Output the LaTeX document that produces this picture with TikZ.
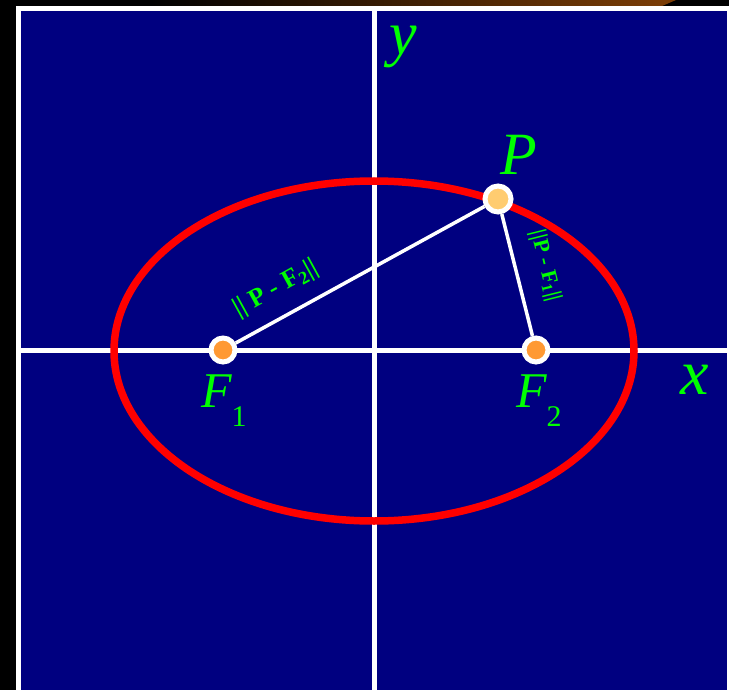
\documentclass[tikz,border=0pt]{standalone}
\usepackage{fontspec}
\setmainfont{Liberation Serif}
\usetikzlibrary{positioning}
\definecolor{navybg}{RGB}{0,0,128}
\definecolor{lgreen}{RGB}{0,255,0}
\definecolor{focusor}{RGB}{255,153,51}
\definecolor{pointor}{RGB}{255,204,112}
\definecolor{bandbrown}{RGB}{125,62,5}
\tikzset{
  focus/.style={circle,draw=white,line width=5pt,fill=focusor,minimum size=24pt,inner sep=0pt},
  ptdot/.style={circle,draw=white,line width=5pt,fill=pointor,minimum size=26pt,inner sep=0pt},
  lbl/.style={text=lgreen,inner sep=0pt},
}

\begin{document}
\begin{tikzpicture}[x=1pt,y=-1pt]
  \useasboundingbox (0,0) rectangle (729,690);
  \clip (0,0) rectangle (729,690);
  \fill[black] (0,0) rectangle (729,690);
  \shade[left color=black,right color=bandbrown] (150,0) -- (676,0) -- (662,6) -- (150,6) -- cycle;
  \fill[white] (16,6) rectangle (740,700);
  \fill[navybg] (21,11) rectangle (727,700);
  % axes
  \draw[white,line width=5pt] (21,350) -- (727,350);
  \draw[white,line width=5pt] (374,11) -- (374,700);
  \node[lbl,anchor=base west] (xl) at (680,394) {\fontsize{64}{64}\selectfont\itshape x};
  \node[lbl,anchor=base west] (yl) at (389,55) {\fontsize{62}{62}\selectfont\itshape y};
  % ellipse
  \draw[red,line width=7.5pt] (374,351) ellipse [x radius=260, y radius=170];
  % foci and point
  \node[focus] (F1) at (223,350) {};
  \node[focus] (F2) at (536,350) {};
  \node[ptdot] (P) at (498,199) {};
  \draw[white,line width=3.5pt] (F1) -- (P);
  \draw[white,line width=3.5pt] (P) -- (F2);
  \node[lbl,anchor=base west] (Pl) at (500,175) {\fontsize{60}{60}\selectfont\itshape P};
  \node[lbl,anchor=base west] (F1l) at (201,407) {\fontsize{50}{50}\selectfont\itshape F\raisebox{-19pt}{\fontsize{30}{30}\selectfont\upshape 1}};
  \node[lbl,anchor=base west] (F2l) at (516,407) {\fontsize{50}{50}\selectfont\itshape F\raisebox{-19pt}{\fontsize{30}{30}\selectfont\upshape 2}};
  % distance labels
  \node[lbl,rotate=28.8] (d2) at (276,289) {\fontsize{26}{26}\selectfont\bfseries || P - F\textsubscript{2}||};
  \node[lbl,rotate=-76] (d1) at (545,266) {\fontsize{22}{22}\selectfont\bfseries ||P - F\textsubscript{1}||};
\end{tikzpicture}
\end{document}
